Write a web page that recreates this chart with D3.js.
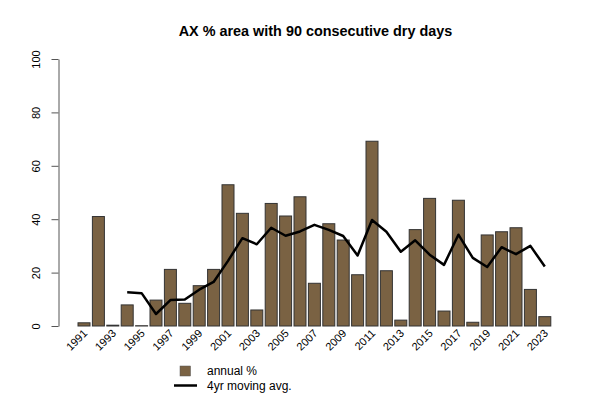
<!DOCTYPE html>
<html>
<head>
<meta charset="utf-8">
<script src="https://cdn.jsdelivr.net/npm/d3@7"></script>
<style>
  body { margin: 0; background: #fff; }
  text { font-family: "Liberation Sans", Arial, Helvetica, sans-serif; }
</style>
</head>
<body>
<svg id="chart" width="600" height="400"></svg>
<script>
const years = d3.range(1991, 2024);
const annualPct = [1.2, 41.0, 0.3, 7.9, 0.1, 9.7, 21.2, 8.5, 15.1, 21.2, 52.9,
  42.2, 6.0, 45.9, 41.2, 48.4, 16.0, 38.3, 32.2, 19.2, 69.2, 20.7, 2.2, 36.1,
  47.8, 5.6, 47.1, 1.4, 34.1, 35.3, 36.8, 13.7, 3.5];
const movingAvgYears = d3.range(1994, 2024);
const movingAvg = [12.6, 12.3, 4.5, 9.7, 9.9, 13.6, 16.5, 24.4, 32.9, 30.6,
  36.8, 33.8, 35.4, 37.9, 36.0, 33.7, 26.4, 39.7, 35.3, 27.8, 32.1, 26.7,
  22.9, 34.2, 25.5, 22.1, 29.5, 26.9, 30.0, 22.3];
const yTicks = [0, 20, 40, 60, 80, 100];
const xLabelYears = years.filter((y, i) => i % 2 === 0);
const titleText = "AX % area with 90 consecutive dry days";
const legendLabels = ["annual %", "4yr moving avg."];

const svg = d3.select("#chart");
const barFill = "#7a6243";

const x = d3.scaleBand().domain(years).range([78, 550.8]).paddingInner(1/6).paddingOuter(0);
const y = d3.scaleLinear().domain([0, 100]).range([326, 59]);

// title
svg.append("text")
  .attr("x", 315.5).attr("y", 36)
  .attr("text-anchor", "middle")
  .attr("font-weight", "bold")
  .attr("font-size", "14.4px")
  .text(titleText);

// bars
svg.append("g").selectAll("rect")
  .data(years.map((yr, i) => ({yr, v: annualPct[i]})))
  .join("rect")
  .attr("x", d => x(d.yr))
  .attr("width", x.bandwidth())
  .attr("y", d => y(d.v))
  .attr("height", d => y(0) - y(d.v))
  .attr("fill", barFill)
  .attr("stroke", "#333")
  .attr("stroke-width", 1);

// moving average line
const line = d3.line()
  .x(d => x(d.yr) + x.bandwidth() / 2)
  .y(d => y(d.v));
svg.append("path")
  .datum(movingAvgYears.map((yr, i) => ({yr, v: movingAvg[i]})))
  .attr("d", line)
  .attr("fill", "none")
  .attr("stroke", "#000")
  .attr("stroke-width", 2.5)
  .attr("stroke-linejoin", "round");

// y axis
const yAxis = svg.append("g")
  .attr("transform", "translate(58.5,0)")
  .call(d3.axisLeft(y).tickValues(yTicks).tickSize(7).tickSizeOuter(0).tickFormat(d3.format("d")));
yAxis.select(".domain").attr("stroke", "#555");
yAxis.selectAll(".tick line").attr("stroke", "#555");
yAxis.selectAll(".tick text")
  .attr("font-family", "Liberation Sans, Arial, sans-serif")
  .attr("font-size", "11px")
  .attr("fill", "#000")
  .attr("text-anchor", "middle")
  .attr("x", 0)
  .attr("dy", 0)
  .attr("y", -18.5)
  .attr("transform", "rotate(-90)");

// x labels
svg.append("g").selectAll("text")
  .data(xLabelYears)
  .join("text")
  .attr("font-size", "11px")
  .attr("text-anchor", "end")
  .attr("transform", d => `translate(${x(d) + x.bandwidth() / 2 + 4},334) rotate(-45)`)
  .text(d => d);

// legend
const lg = svg.append("g");
lg.append("rect")
  .attr("x", 180).attr("y", 366).attr("width", 10.5).attr("height", 10)
  .attr("fill", barFill).attr("stroke", "#555").attr("stroke-width", 0.5);
lg.append("line")
  .attr("x1", 174).attr("x2", 197).attr("y1", 385.5).attr("y2", 385.5)
  .attr("stroke", "#000").attr("stroke-width", 2.5);
lg.selectAll("text.lab")
  .data(legendLabels)
  .join("text")
  .attr("class", "lab")
  .attr("x", 207)
  .attr("y", (d, i) => 371 + i * 15)
  .attr("dy", "0.35em")
  .attr("font-size", "12px")
  .text(d => d);
</script>
</body>
</html>
